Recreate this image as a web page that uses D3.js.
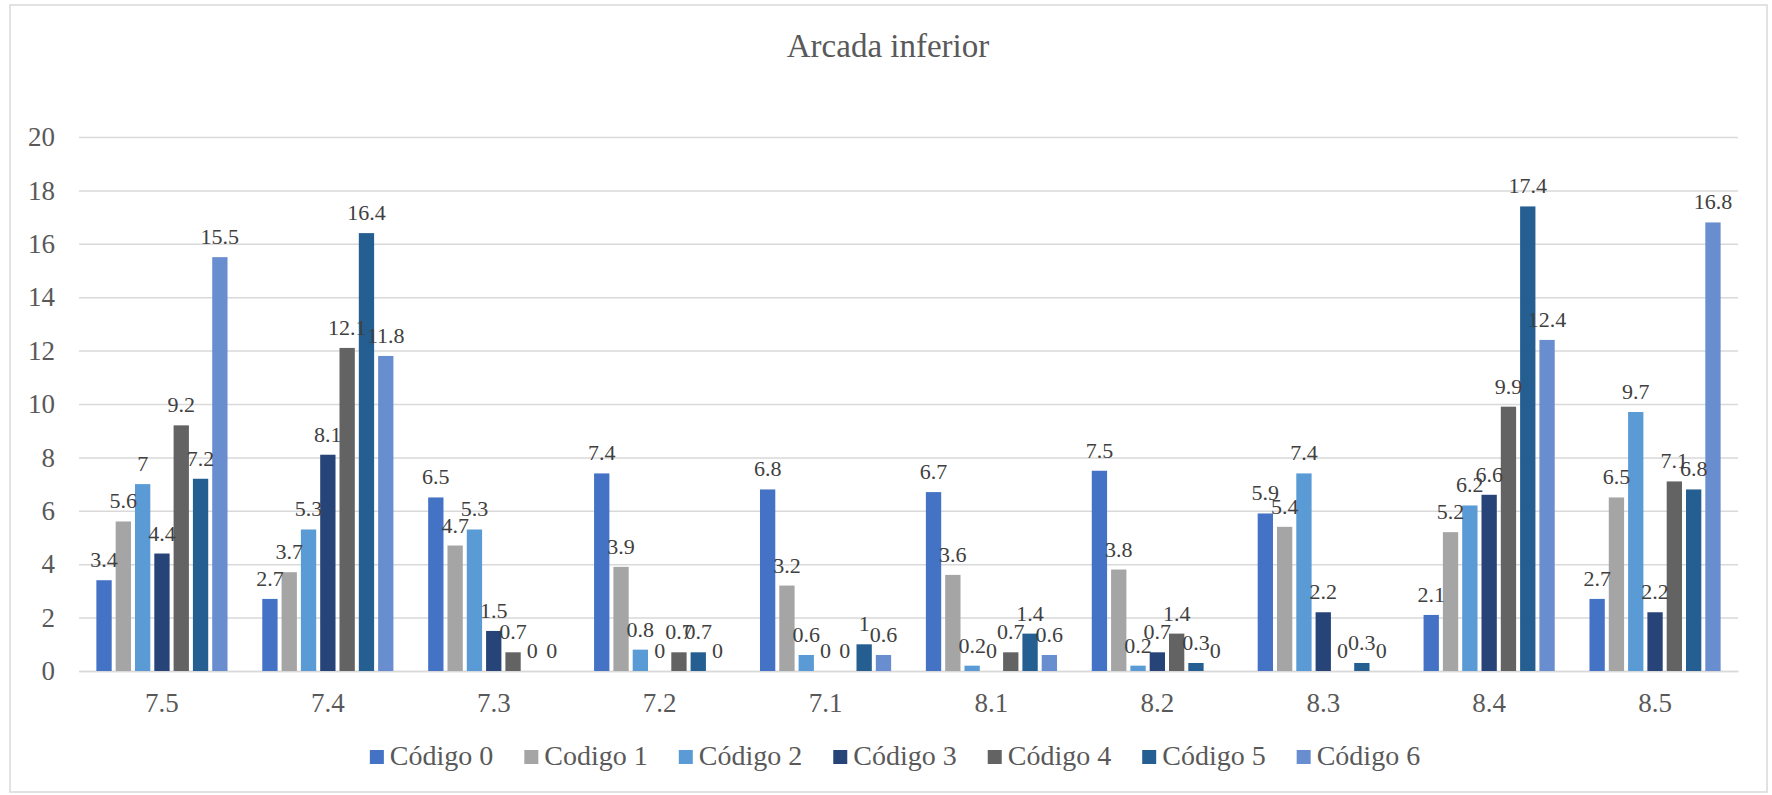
<!DOCTYPE html>
<html>
<head>
<meta charset="utf-8">
<script src="https://cdn.jsdelivr.net/npm/d3@7"></script>
<style>
  html, body { margin: 0; padding: 0; background: #fff; }
  svg { display: block; }
  svg text { font-family: "Liberation Serif", "Tinos", "Times New Roman", "DejaVu Serif", serif !important; fill: #595959; }
</style>
</head>
<body>
<svg id="chart" width="1772" height="795"></svg>
<script>
const title = "Arcada inferior";
const categories = ["7.5", "7.4", "7.3", "7.2", "7.1", "8.1", "8.2", "8.3", "8.4", "8.5"];
const seriesNames = ["Código 0", "Codigo 1", "Código 2", "Código 3", "Código 4", "Código 5", "Código 6"];
const seriesColors = ["#4472C4", "#A5A5A5", "#5B9BD5", "#264478", "#636363", "#255E91", "#698ED0"];
const codigo0 = [3.4, 2.7, 6.5, 7.4, 6.8, 6.7, 7.5, 5.9, 2.1, 2.7];
const codigo1 = [5.6, 3.7, 4.7, 3.9, 3.2, 3.6, 3.8, 5.4, 5.2, 6.5];
const codigo2 = [7, 5.3, 5.3, 0.8, 0.6, 0.2, 0.2, 7.4, 6.2, 9.7];
const codigo3 = [4.4, 8.1, 1.5, 0, 0, 0, 0.7, 2.2, 6.6, 2.2];
const codigo4 = [9.2, 12.1, 0.7, 0.7, 0, 0.7, 1.4, 0, 9.9, 7.1];
const codigo5 = [7.2, 16.4, 0, 0.7, 1, 1.4, 0.3, 0.3, 17.4, 6.8];
const codigo6 = [15.5, 11.8, 0, 0, 0.6, 0.6, 0, 0, 12.4, 16.8];
const yTicks = [0, 2, 4, 6, 8, 10, 12, 14, 16, 18, 20];

const seriesValues = [codigo0, codigo1, codigo2, codigo3, codigo4, codigo5, codigo6];

const FONT = '"Liberation Serif", "Tinos", "Times New Roman", "DejaVu Serif", serif';
const plot = { left: 79, right: 1738, top: 137, bottom: 671 };

const svg = d3.select("#chart");

svg.append("rect")
  .attr("x", 10).attr("y", 5)
  .attr("width", 1757).attr("height", 787)
  .attr("fill", "#fff")
  .attr("stroke", "#d9d9d9").attr("stroke-width", 1.5);

const x0 = d3.scaleBand().domain(categories).range([plot.left, plot.right]).paddingInner(0).paddingOuter(0);
const x1 = d3.scaleBand().domain(d3.range(seriesNames.length)).range([0, x0.bandwidth()])
  .paddingInner(0.207).paddingOuter(0.9);
const y = d3.scaleLinear().domain([0, 20]).range([plot.bottom, plot.top]);

const yAxis = d3.axisLeft(y).tickValues(yTicks).tickSize(-(plot.right - plot.left)).tickPadding(24).tickFormat(d3.format("d"));
const gy = svg.append("g").attr("transform", `translate(${plot.left},0)`).call(yAxis)
  .attr("font-family", FONT);
gy.select(".domain").remove();
gy.selectAll(".tick line").attr("stroke", "#d9d9d9").attr("stroke-width", 1.5);
gy.selectAll(".tick text").attr("font-size", 27).attr("fill", "#595959");

const xAxis = d3.axisBottom(x0).tickSize(0).tickPadding(22);
const gx = svg.append("g").attr("transform", `translate(0,${plot.bottom})`).call(xAxis)
  .attr("font-family", FONT);
gx.select(".domain").attr("stroke", "#d9d9d9").attr("stroke-width", 1.5);
gx.selectAll(".tick text").attr("font-size", 27).attr("fill", "#595959");

const rows = [];
categories.forEach((c, ci) => {
  seriesValues.forEach((vals, si) => rows.push({ cat: c, si, v: vals[ci] }));
});

svg.append("g").selectAll("rect").data(rows).join("rect")
  .attr("x", d => x0(d.cat) + x1(d.si))
  .attr("y", d => y(d.v))
  .attr("width", x1.bandwidth())
  .attr("height", d => y(0) - y(d.v))
  .attr("fill", d => seriesColors[d.si]);

svg.append("g").attr("font-family", FONT).selectAll("text").data(rows).join("text")
  .attr("x", d => x0(d.cat) + x1(d.si) + x1.bandwidth() / 2)
  .attr("y", d => y(d.v) - 13)
  .attr("text-anchor", "middle")
  .attr("font-size", 22)
  .style("fill", "#404040")
  .text(d => String(d.v));

svg.append("text")
  .attr("x", 888).attr("y", 57)
  .attr("text-anchor", "middle")
  .attr("font-size", 33)
  .attr("font-family", FONT)
  .text(title);

const lg = svg.append("g").attr("font-family", FONT);
const items = lg.selectAll("g").data(seriesNames).join("g");
items.append("rect").attr("width", 14).attr("height", 14).attr("y", 750)
  .attr("fill", (d, i) => seriesColors[i]);
items.append("text").attr("x", 20).attr("y", 765).attr("font-size", 28).text(d => d);
let cx = 0;
const offs = [];
items.each(function() {
  offs.push(cx);
  const tw = d3.select(this).select("text").node().getComputedTextLength();
  cx += 20 + tw + 31;
});
const total = cx - 31;
const start = 895 - total / 2;
items.attr("transform", (d, i) => `translate(${start + offs[i]},0)`);
</script>
</body>
</html>
